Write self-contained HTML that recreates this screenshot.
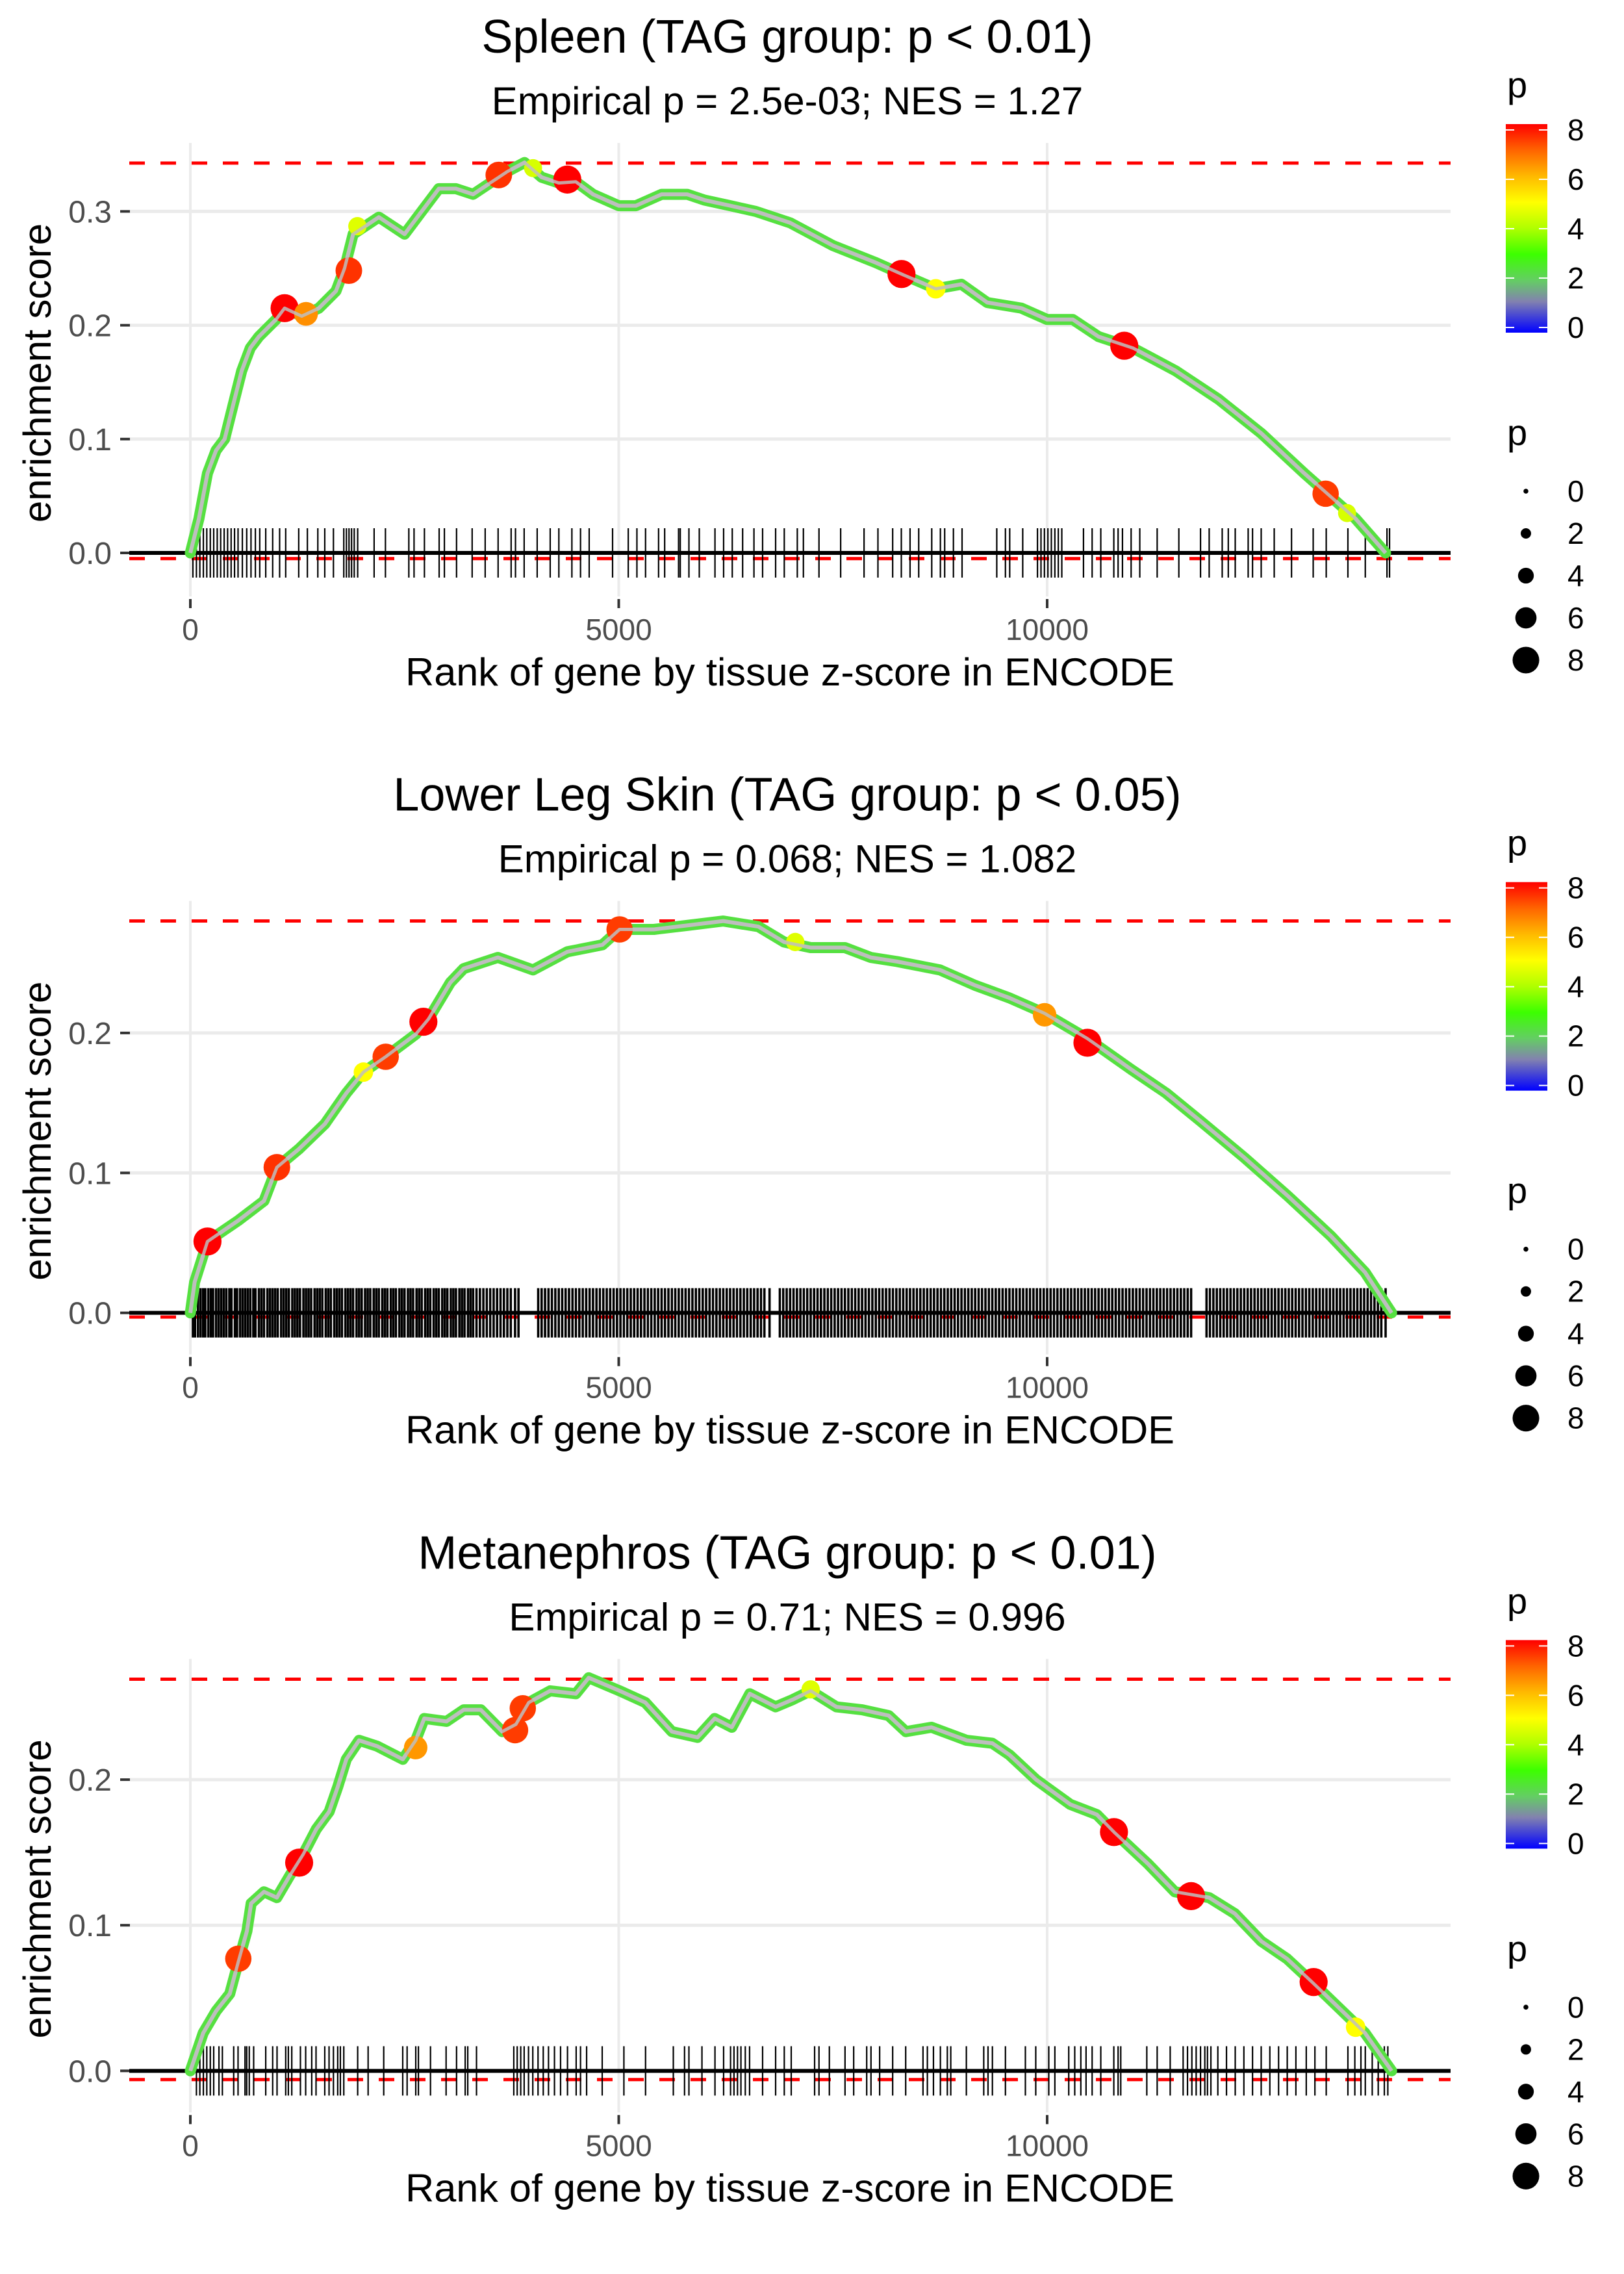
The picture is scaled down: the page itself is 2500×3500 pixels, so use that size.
<!DOCTYPE html>
<html><head><meta charset="utf-8"><title>Enrichment plots</title>
<style>html,body{margin:0;padding:0;background:#fff}svg{display:block}text{font-family:"Liberation Sans",sans-serif}</style>
</head><body>
<svg id="fig" width="2500" height="3500" viewBox="0 0 2500 3500" xmlns="http://www.w3.org/2000/svg">
<rect x="0" y="0" width="2500" height="3500" fill="#fff"/>
</svg>
<script>
// ---- Panel 1: Spleen ----
const p1Titles = ["Spleen (TAG group: p < 0.01)", "Empirical p = 2.5e-03; NES = 1.27"];
const p1YTicks = [0, 0.1, 0.2, 0.3];
const p1Max = 0.3425, p1Min = -0.005;
const p1Rank = [0,100,200,300,400,500,600,700,800,1000,1100,1300,1500,1700,1800,1900,2000,2200,2500,2700,2900,3100,3300,3500,3700,3900,4100,4300,4500,4700,5000,5200,5500,5800,6000,6300,6600,7000,7500,8000,8300,8700,9000,9300,9700,10000,10300,10600,11000,11500,12000,12500,13000,13300,13600,13950];
const p1ES = [0,0.03,0.07,0.09,0.10,0.13,0.16,0.18,0.19,0.205,0.215,0.208,0.215,0.23,0.25,0.28,0.285,0.295,0.28,0.30,0.32,0.32,0.315,0.325,0.335,0.343,0.33,0.325,0.326,0.315,0.305,0.305,0.315,0.315,0.31,0.305,0.30,0.29,0.27,0.255,0.245,0.232,0.236,0.22,0.215,0.205,0.205,0.19,0.18,0.16,0.135,0.105,0.07,0.05,0.03,0.0];
const p1PtRank = [1100,1350,1850,1950,3600,4000,4400,8300,8700,10900,13250,13500];
const p1PtES = [0.215,0.21,0.248,0.287,0.332,0.338,0.328,0.245,0.232,0.182,0.052,0.035];
const p1PtP = [8,6.5,7.5,4.6,7.5,4.5,8,8,5,8,7.4,4.5];
const p1Rug = [30,71,111,152,192,233,273,314,354,395,435,476,516,557,607,658,708,759,810,880,961,1042,1113,1265,1366,1488,1569,1670,1791,1822,1852,1882,1913,1953,2145,2277,2550,2611,2732,2904,2965,3107,3289,3441,3592,3744,3795,3896,4048,4200,4301,4453,4554,4655,4928,5111,5212,5313,5465,5536,5698,5718,5819,5940,6123,6224,6325,6446,6578,6679,6831,6932,7084,7155,7337,7590,7863,8025,8197,8298,8400,8501,8653,8754,8804,8906,9007,9412,9513,9563,9715,9887,9928,9968,10009,10049,10090,10130,10171,10424,10525,10626,10778,10828,10879,10980,11081,11284,11537,11790,11891,12043,12114,12195,12346,12397,12498,12650,12852,13105,13257,13510,13713,13966,13996];

// ---- Panel 2: Lower Leg Skin ----
const p2Titles = ["Lower Leg Skin (TAG group: p < 0.05)", "Empirical p = 0.068; NES = 1.082"];
const p2YTicks = [0, 0.1, 0.2];
const p2Max = 0.28, p2Min = -0.003;
const p2Rank = [0,50,200,560,860,1010,1265,1570,1820,2020,2280,2630,2780,3035,3190,3590,4000,4400,4810,5010,5410,5820,6220,6630,6930,7240,7640,7940,8250,8750,9160,9560,9970,10470,10980,11390,11790,12300,12800,13310,13710,14020];
const p2ES = [0,0.022,0.051,0.066,0.08,0.104,0.117,0.135,0.157,0.172,0.183,0.199,0.21,0.236,0.246,0.254,0.245,0.258,0.263,0.274,0.274,0.277,0.28,0.276,0.265,0.261,0.261,0.254,0.251,0.245,0.234,0.225,0.214,0.196,0.174,0.157,0.137,0.111,0.084,0.055,0.029,0.0];
const p2PtRank = [200,1010,2020,2280,2720,5010,7060,9970,10470];
const p2PtES = [0.051,0.104,0.172,0.183,0.208,0.274,0.265,0.213,0.193];
const p2PtP = [8,7.5,5,7.4,8,7.4,4.6,6.4,8];
const p2Rug = [30,55,90,120,150,175,210,240,265,300,330,360,390,420,455,480,520,545,580,610,640,670,700,735,760,800,830,860,900,930,960,990,1020,1060,1090,1120,1150,1190,1220,1250,1280,1320,1350,1380,1410,1450,1480,1510,1540,1580,1610,1640,1680,1710,1740,1770,1810,1840,1870,1900,1940,1970,2000,2040,2070,2100,2140,2170,2200,2240,2270,2300,2340,2370,2400,2440,2470,2500,2540,2570,2600,2640,2670,2700,2740,2770,2800,2840,2870,2900,2940,2970,3000,3040,3070,3100,3140,3170,3200,3240,3270,3300,3340,3380,3420,3460,3500,3540,3580,3620,3660,3700,3740,3790,3830,4060,4100,4140,4180,4220,4260,4300,4340,4380,4420,4460,4500,4540,4580,4620,4660,4700,4740,4780,4820,4860,4900,4940,4980,5020,5060,5100,5140,5180,5220,5260,5300,5340,5380,5420,5460,5500,5540,5580,5620,5660,5700,5740,5780,5820,5860,5900,5940,5980,6020,6060,6100,6140,6180,6220,6260,6300,6340,6380,6420,6460,6500,6540,6580,6620,6660,6700,6760,6880,6920,6960,7000,7040,7080,7120,7160,7200,7240,7280,7320,7360,7400,7440,7480,7520,7560,7600,7640,7680,7720,7760,7800,7840,7880,7920,7960,8000,8040,8080,8120,8160,8200,8240,8280,8320,8360,8400,8440,8480,8520,8560,8600,8640,8680,8720,8760,8800,8840,8880,8920,8960,9000,9040,9080,9120,9160,9200,9240,9280,9320,9360,9400,9440,9480,9520,9560,9600,9640,9680,9720,9760,9800,9840,9880,9920,9960,10000,10040,10080,10120,10160,10200,10240,10280,10320,10360,10400,10440,10480,10520,10560,10600,10640,10680,10720,10760,10800,10840,10880,10920,10960,11000,11040,11080,11120,11160,11200,11240,11280,11320,11360,11400,11440,11480,11520,11560,11600,11640,11680,11860,11900,11940,11980,12020,12060,12100,12140,12180,12220,12260,12300,12340,12380,12420,12460,12500,12540,12580,12620,12660,12700,12740,12780,12820,12860,12900,12940,12980,13020,13060,13100,13140,13180,13220,13260,13300,13340,13380,13420,13460,13500,13540,13580,13620,13660,13700,13740,13780,13820,13860,13900,13950];

// ---- Panel 3: Metanephros ----
const p3Titles = ["Metanephros (TAG group: p < 0.01)", "Empirical p = 0.71; NES = 0.996"];
const p3YTicks = [0, 0.1, 0.2];
const p3Max = 0.269, p3Min = -0.006;
const p3Rank = [0,150,300,460,560,660,710,860,1010,1160,1320,1470,1620,1720,1820,1970,2180,2480,2630,2730,2990,3190,3390,3640,3800,3950,4200,4500,4650,5010,5310,5620,5920,6120,6320,6530,6830,7030,7240,7540,7840,8150,8350,8650,9060,9360,9560,9870,10270,10580,10780,11180,11490,11890,12190,12500,12800,13110,13410,13710,14020];
const p3ES = [0,0.026,0.041,0.053,0.075,0.096,0.115,0.123,0.119,0.134,0.149,0.166,0.178,0.195,0.214,0.227,0.223,0.214,0.227,0.242,0.24,0.248,0.248,0.233,0.238,0.253,0.261,0.259,0.27,0.261,0.253,0.233,0.229,0.242,0.236,0.259,0.25,0.255,0.261,0.25,0.248,0.244,0.233,0.236,0.227,0.225,0.217,0.2,0.183,0.176,0.164,0.142,0.123,0.119,0.108,0.089,0.077,0.06,0.043,0.026,0.0];
const p3PtRank = [560,1270,2630,3790,3880,7240,10780,11680,13110,13600];
const p3PtES = [0.077,0.143,0.222,0.234,0.249,0.262,0.164,0.12,0.061,0.03];
const p3PtP = [7.4,8,6.4,7.4,7.4,4.6,8,8,8,5];
const p3Rug = [71,111,152,192,233,273,334,374,506,557,638,658,688,739,880,961,1012,1113,1144,1184,1285,1346,1417,1467,1569,1619,1670,1720,1751,1791,1953,2075,2257,2479,2530,2631,2662,2803,2985,3107,3208,3238,3340,3775,3815,3856,3896,3947,3997,4058,4119,4180,4250,4321,4402,4503,4554,4625,4807,5060,5313,5637,5768,5819,5971,6123,6224,6305,6345,6386,6426,6477,6527,6679,6831,6932,7013,7286,7337,7458,7641,7742,7894,7944,8045,8197,8349,8551,8602,8673,8754,8835,8875,9057,9260,9310,9361,9513,9746,9867,10019,10090,10252,10322,10393,10454,10525,10626,10778,10828,10859,11163,11284,11436,11587,11638,11689,11739,11790,11840,11871,11911,11992,12093,12195,12296,12397,12498,12599,12701,12802,12903,13024,13125,13257,13510,13591,13662,13713,13794,13864,13935,13976];

const xTicks = [0, 5000, 10000];
const legendColorTicks = [0, 2, 4, 6, 8];
const legendSizeTicks = [0, 2, 4, 6, 8];

const NS = "http://www.w3.org/2000/svg";
const svg = document.getElementById("fig");
function mk(tag, attrs, parent){const e=document.createElementNS(NS,tag);for(const k in attrs)e.setAttribute(k,attrs[k]);(parent||svg).appendChild(e);return e;}
const stops=[[0,[0,0,255]],[1.2,[130,130,175]],[2,[100,205,100]],[3,[60,255,0]],[4,[175,255,0]],[5,[255,255,0]],[6,[255,185,0]],[7,[255,100,0]],[8,[255,0,0]]];
function pColor(p){p=Math.max(0,Math.min(8,p));for(let i=1;i<stops.length;i++){if(p<=stops[i][0]){const a=stops[i-1],b=stops[i];const t=(p-a[0])/(b[0]-a[0]);const c=a[1].map((v,j)=>Math.round(v+(b[1][j]-v)*t));return `rgb(${c[0]},${c[1]},${c[2]})`;}}return "rgb(255,0,0)";}
function pRadius(p){return 4+2.2*p;}
const xS = r => 293 + r*0.13190;
const PX0=189, PX1=2233;
const TITLE_X=1212;

const panels=[
 {off:0, zero:851, unit:1752, titles:p1Titles, yt:p1YTicks, max:p1Max, min:p1Min, rank:p1Rank, es:p1ES, pr:p1PtRank, pe:p1PtES, pp:p1PtP, rug:p1Rug, rugW:2.2},
 {off:1166.67, zero:854, unit:2154, titles:p2Titles, yt:p2YTicks, max:p2Max, min:p2Min, rank:p2Rank, es:p2ES, pr:p2PtRank, pe:p2PtES, pp:p2PtP, rug:p2Rug, rugW:3.6},
 {off:2333.33, zero:854, unit:2241, titles:p3Titles, yt:p3YTicks, max:p3Max, min:p3Min, rank:p3Rank, es:p3ES, pr:p3PtRank, pe:p3PtES, pp:p3PtP, rug:p3Rug, rugW:2.2}
];

panels.forEach((P,pi)=>{
  const g=mk("g",{});
  
  
  const o=P.off;
  const yS=v=>o+P.zero-v*P.unit;
  const t1=mk("text",{x:TITLE_X,y:o+81,"text-anchor":"middle","font-size":72,fill:"#000"},g);t1.textContent=P.titles[0];
  
  
  const t2=mk("text",{x:TITLE_X,y:o+176,"text-anchor":"middle","font-size":60,fill:"#000"},g);t2.textContent=P.titles[1];
  
  
  P.yt.forEach(v=>{
    const l=mk("line",{x1:PX0+11,x2:PX1,y1:yS(v),y2:yS(v),stroke:"#ebebeb","stroke-width":5},g);
    
    
    const tk=mk("line",{x1:185,x2:200,y1:yS(v),y2:yS(v),stroke:"#333","stroke-width":4},g);
    
    
    const tl=mk("text",{x:172,y:yS(v)+17,"text-anchor":"end","font-size":48,fill:"#4d4d4d"},g);tl.textContent=v.toFixed(1);
    
    
  });
  xTicks.forEach(v=>{
    const l=mk("line",{x1:xS(v),x2:xS(v),y1:o+220,y2:o+918,stroke:"#ebebeb","stroke-width":4},g);
    
    
    const tk=mk("line",{x1:xS(v),x2:xS(v),y1:o+922,y2:o+936,stroke:"#333","stroke-width":4},g);
    
    
    const tl=mk("text",{x:xS(v),y:o+985,"text-anchor":"middle","font-size":46,fill:"#4d4d4d"},g);tl.textContent=String(v);
    
    
  });
  [P.max,P.min].forEach((v,i)=>{
    const l=mk("line",{x1:PX0+10,x2:PX1,y1:yS(v),y2:yS(v),stroke:"#ff0000","stroke-width":5,"stroke-dasharray":"24 24"},g);
    
    
  });
  P.rug.forEach(r=>{
    const l=mk("line",{x1:xS(r),x2:xS(r),y1:yS(0)-38,y2:yS(0)+38,stroke:"#000","stroke-width":P.rugW},g);
    
    
  });
  const z=mk("line",{x1:PX0+10,x2:PX1,y1:yS(0),y2:yS(0),stroke:"#000","stroke-width":6},g);
  
  
  const pts=P.rank.map((r,i)=>xS(r).toFixed(1)+","+yS(P.es[i]).toFixed(1)).join(" ");
  const under=mk("polyline",{points:pts,fill:"none",stroke:"#55e040","stroke-width":17,"stroke-linejoin":"round","stroke-linecap":"round"},g);
  
  
  const line=mk("polyline",{points:pts,fill:"none",stroke:"#bebebe","stroke-width":6,"stroke-linejoin":"round"},g);
  
  
  P.pr.forEach((r,i)=>{
    const c=mk("circle",{cx:xS(r),cy:yS(P.pe[i]),r:pRadius(P.pp[i]),fill:pColor(P.pp[i])},g);
    
    
  });
  const line2=mk("polyline",{points:pts,fill:"none",stroke:"#bebebe","stroke-width":5,"stroke-linejoin":"round","opacity":0.85},g);
  
  
  const xl=mk("text",{x:1216,y:o+1055,"text-anchor":"middle","font-size":60,fill:"#000",textLength:1184,lengthAdjust:"spacingAndGlyphs"},g);xl.textContent="Rank of gene by tissue z-score in ENCODE";
  
  
  const yl=mk("text",{x:0,y:0,"text-anchor":"middle","font-size":60,fill:"#000",transform:`translate(78,${o+574}) rotate(-90)`},g);yl.textContent="enrichment score";
  
  
  const defs=mk("defs",{},g);
  const gr=mk("linearGradient",{id:"grad"+pi,x1:0,y1:1,x2:0,y2:0},defs);
  stops.forEach(s=>{mk("stop",{offset:(s[0]/8),"stop-color":pColor(s[0])},gr);});
  const lt=mk("text",{x:2320,y:o+150,"font-size":56,fill:"#000"},g);lt.textContent="p";
  
  
  const bar=mk("rect",{x:2318,y:o+191,width:64,height:321,fill:`url(#grad${pi})`},g);
  
  
  legendColorTicks.forEach(v=>{
    const yy=o+504-v*38;
    mk("line",{x1:2318,x2:2331,y1:yy,y2:yy,stroke:"#fff","stroke-width":2},g);
    mk("line",{x1:2369,x2:2382,y1:yy,y2:yy,stroke:"#fff","stroke-width":2},g);
    const t=mk("text",{x:2413,y:yy+16,"font-size":46,fill:"#000"},g);t.textContent=String(v);
    
    
  });
  const st=mk("text",{x:2320,y:o+685,"font-size":56,fill:"#000"},g);st.textContent="p";
  
  
  legendSizeTicks.forEach((v,i)=>{
    const yy=o+756+i*65;
    const c=mk("circle",{cx:2349,cy:yy,r:pRadius(v)*0.95,fill:"#000"},g);
    
    
    const t=mk("text",{x:2413,y:yy+16,"font-size":46,fill:"#000"},g);t.textContent=String(v);
    
    
  });
});
</script>
</body></html>
